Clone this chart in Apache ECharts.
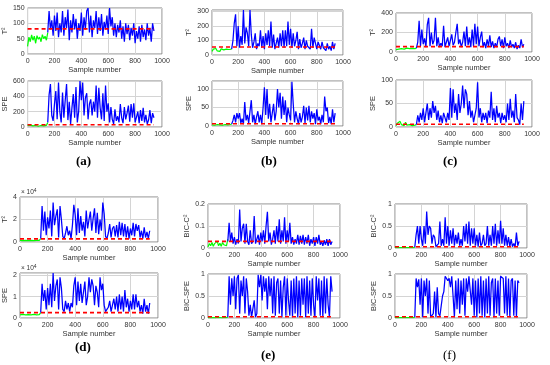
<!DOCTYPE html>
<html><head><meta charset="utf-8">
<script src="https://cdn.jsdelivr.net/npm/echarts@6/dist/echarts.min.js"></script>
<style>html,body{margin:0;padding:0;background:#fff}#c{width:550px;height:365px}</style>
</head><body><div id="c"></div>
<script>
// ---------- data (sample numbers: green from 0, blue from 150, step 10) ----------
const xTicks = [0, 200, 400, 600, 800, 1000];
const greenStart = 0, blueStart = 150, sampleStep = 10, thresholdEnd = 940;

// (a)
const aT2Green = [25,55,40,62,45,58,35,60,48,55,40,63,50,58,45,70];
const aT2Blue = [70,140,80,110,60,125,75,135,55,100,70,140,60,120,85,145,45,110,70,130,80,115,50,100,75,135,60,120,80,140,150,70,125,55,110,85,140,65,120,75,130,60,105,80,125,65,150,90,120,60,100,55,95,70,110,50,90,40,100,65,95,45,85,60,100,35,75,50,90,40,95,55,80,45,100,60,85,40,100,75];
const aT2Thr = 82;
const aSpeGreen = [20,40,25,30,15,35,20,25,10,30,20,35,15,25,20,60];
const aSpeBlue = [60,420,560,150,80,300,470,100,580,200,60,450,120,350,560,90,330,40,250,430,120,520,60,200,600,350,580,150,380,440,100,300,360,150,330,200,540,120,510,250,100,440,80,540,200,310,60,260,100,40,230,80,140,60,300,120,50,260,100,180,280,70,300,120,310,60,130,200,50,220,80,250,60,160,40,90,220,50,180,120];
const aSpeThr = 30;
// (b)
const bT2Green = [25,40,30,45,28,38,25,42,30,35,22,40,30,38,28,40];
const bT2Blue = [40,100,220,280,60,200,50,130,70,310,80,190,150,60,310,140,50,90,150,40,80,60,170,50,130,40,150,70,170,60,230,50,140,40,80,120,50,150,60,170,50,170,60,230,70,180,50,150,60,100,160,40,110,50,80,120,40,100,60,70,40,180,50,120,110,40,90,80,40,90,50,60,30,80,40,60,30,90,40,80];
const bT2Thr = 55;
const bSpeGreen = [3,5,2,6,4,7,3,5,2,6,4,5,3,6,4,5];
const bSpeBlue = [5,15,30,10,35,20,35,8,20,5,65,15,30,8,40,70,10,30,5,25,40,10,30,5,50,105,30,100,20,60,10,35,60,15,40,100,50,90,20,80,30,70,10,50,30,15,120,60,10,40,20,5,35,10,25,55,8,50,15,55,10,40,20,35,5,45,15,25,5,30,10,80,40,50,8,25,5,45,10,35];
const bSpeThr = 6;
// (c)
const cT2Green = [25,35,30,40,35,42,30,38,40,45,35,42,38,40,35,40];
const cT2Blue = [40,100,320,60,230,80,140,50,280,350,60,200,80,120,350,60,150,50,90,60,270,50,100,150,60,120,180,70,100,200,290,80,130,50,100,210,60,260,70,150,50,230,60,290,80,260,60,150,210,50,100,40,130,60,170,50,110,40,90,50,130,160,60,130,40,150,60,90,40,120,50,80,40,100,30,70,40,130,50,80];
const cT2Thr = 55;
const cSpeGreen = [3,8,4,12,5,7,3,10,4,8,5,6,3,7,4,5];
const cSpeBlue = [5,25,10,30,15,40,10,30,50,15,40,20,55,30,45,15,35,10,25,8,30,20,10,30,15,83,20,80,30,50,15,70,30,50,88,40,80,70,25,55,20,35,10,25,40,95,20,40,10,30,15,30,8,35,20,75,15,40,10,45,20,30,8,30,15,25,10,50,15,60,20,35,10,70,20,15,5,50,15,55];
const cSpeThr = 6;
// (d)  values in units of 10^4
const dT2Green = [0.15,0.2,0.12,0.18,0.15,0.2,0.12,0.17,0.15,0.2,0.13,0.18,0.15,0.2,0.14,0.3];
const dT2Blue = [0.3,3.2,1.0,2.7,0.6,2.2,1.2,2.8,0.5,3.5,1.5,2.3,2.9,0.4,3.2,2.0,0.5,0.3,0.8,1.4,0.6,1.0,0.3,1.5,3.3,2.4,0.6,3.0,0.8,2.3,1.0,1.8,0.5,2.8,1.2,2.0,2.7,1.0,2.1,3.0,0.8,2.6,0.7,2.0,1.0,3.5,2.5,0.5,0.3,0.8,1.6,0.4,1.2,1.4,0.5,1.5,0.4,1.8,0.6,1.7,0.5,1.6,0.4,1.4,0.3,1.2,0.6,1.7,0.5,1.6,1.0,1.5,0.4,1.0,0.3,1.3,0.4,0.9,0.3,1.0];
const dT2Thr = 0.28;
const dSpeGreen = [0.15,0.2,0.17,0.25,0.15,0.22,0.16,0.2,0.15,0.22,0.17,0.2,0.15,0.2,0.16,0.25];
const dSpeBlue = [0.25,1.6,0.8,1.3,0.4,1.4,0.6,1.6,0.5,2.1,0.8,1.5,1.8,0.4,1.9,1.4,0.4,0.3,0.8,0.4,0.7,0.3,0.7,0.5,1.5,1.9,0.6,1.7,0.8,1.6,0.7,1.2,1.7,0.6,1.0,1.9,1.2,1.8,1.5,0.6,1.5,1.2,0.5,1.9,1.3,1.6,0.6,0.3,0.4,0.5,0.8,0.3,0.6,0.9,0.4,1.0,0.3,1.1,0.4,1.0,0.3,1.3,0.5,0.9,0.3,0.8,0.4,1.1,0.4,1.1,0.5,0.8,0.3,0.6,0.2,0.9,0.3,0.6,0.2,0.7];
const dSpeThr = 0.25;
// (e)
const eC2Green = [0.005,0.02,0.01,0.025,0.008,0.02,0.012,0.03,0.01,0.022,0.008,0.025,0.015,0.02,0.01,0.04];
const eC2Blue = [0.03,0.115,0.03,0.07,0.02,0.05,0.015,0.04,0.02,0.175,0.03,0.09,0.11,0.02,0.11,0.03,0.015,0.08,0.02,0.03,0.145,0.02,0.04,0.06,0.015,0.07,0.03,0.08,0.02,0.1,0.165,0.03,0.07,0.015,0.04,0.08,0.02,0.1,0.03,0.13,0.02,0.08,0.03,0.14,0.02,0.08,0.03,0.115,0.02,0.05,0.015,0.04,0.02,0.06,0.015,0.055,0.02,0.06,0.015,0.05,0.02,0.06,0.01,0.04,0.02,0.05,0.01,0.05,0.02,0.06,0.015,0.03,0.01,0.035,0.015,0.04,0.01,0.04,0.015,0.03];
const eC2Thr = 0.03;
const eSpeGreen = [0.01,0.02,0.005,0.015,0.01,0.02,0.005,0.01,0.015,0.01,0.005,0.02,0.01,0.015,0.01,0.02];
const eSpeBlue = [0.02,0.95,0.3,0.9,0.5,0.95,0.2,0.9,0.98,0.1,0.85,0.5,0.95,0.1,0.9,0.6,0.05,0.3,0.02,0.05,0.4,0.02,0.1,0.98,0.7,0.98,0.4,0.95,0.6,0.9,0.2,0.95,0.5,0.9,0.1,0.95,0.05,0.8,0.9,0.1,0.85,0.02,0.7,0.95,0.05,0.9,0.4,0.05,0.85,0.02,0.9,0.1,0.95,0.02,0.85,0.05,0.9,0.3,0.9,0.02,0.95,0.1,0.85,0.05,0.9,0.3,0.02,0.95,0.4,0.9,0.05,0.85,0.02,0.95,0.1,0.9,0.3,0.02,0.95,0.6];
const eSpeThr = 0.03;
// (f)
const fC2Green = [0.01,0.015,0.01,0.02,0.01,0.015,0.01,0.02,0.01,0.015,0.01,0.02,0.01,0.015,0.01,0.02];
const fC2Blue = [0.02,0.3,0.5,0.1,0.5,0.2,0.05,0.5,0.1,0.83,0.3,0.5,0.45,0.1,0.3,0.25,0.03,0.05,0.1,0.6,0.05,0.2,0.05,0.7,0.1,0.5,0.05,0.4,0.1,0.45,0.05,0.3,0.1,0.35,0.05,0.2,0.05,0.5,0.15,0.55,0.1,0.6,0.05,0.45,0.1,0.45,0.05,0.3,0.03,0.35,0.05,0.1,0.3,0.05,0.1,0.5,0.05,0.3,0.05,0.5,0.1,0.55,0.05,0.4,0.1,0.62,0.1,0.45,0.05,0.3,0.05,0.25,0.03,0.2,0.03,0.1,0.03,0.35,0.05,0.15];
const fC2Thr = 0.03;
const fSpeGreen = [0.01,0.015,0.01,0.02,0.01,0.012,0.01,0.02,0.01,0.015,0.01,0.02,0.01,0.015,0.01,0.02];
const fSpeBlue = [0.02,0.9,0.7,0.88,0.3,0.9,0.02,0.85,0.5,0.9,0.1,0.85,0.02,0.05,0.1,0.6,0.02,0.7,0.1,0.05,0.02,0.5,0.6,0.95,0.98,0.85,0.9,0.7,0.95,0.5,0.02,0.85,0.2,0.9,0.1,0.85,0.3,0.9,0.05,0.9,0.6,0.95,0.98,0.3,0.9,0.05,0.85,0.02,0.9,0.1,0.95,0.05,0.85,0.02,0.9,0.1,0.95,0.05,0.8,0.9,0.02,0.9,0.1,0.85,0.05,0.95,0.98,0.9,0.1,0.95,0.05,0.9,0.02,0.85,0.9,0.05,0.85,0.02,0.85,0.8];
const fSpeThr = 0.03;

const panelLetters = ['(a)', '(b)', '(c)', '(d)', '(e)', '(f)'];

// ---------- layout ----------
const plots = [
  {g:[26,8,136,46],   max:150,  iv:50,  name:'T\u00B2',     green:aT2Green, blue:aT2Blue, thr:aT2Thr},
  {g:[26,81,136,46],  max:600,  iv:200, name:'SPE',         green:aSpeGreen, blue:aSpeBlue, thr:aSpeThr},
  {g:[212,10,131,45], max:310,  iv:100, name:'T\u00B2',     green:bT2Green, blue:bT2Blue, thr:bT2Thr},
  {g:[212,81,131,45], max:122,  iv:50,  name:'SPE',         green:bSpeGreen, blue:bSpeBlue, thr:bSpeThr},
  {g:[396,13,136,39], max:400,  iv:200, name:'T\u00B2',     green:cT2Green, blue:cT2Blue, thr:cT2Thr},
  {g:[396,80,136,47], max:100,  iv:50,  name:'SPE',         green:cSpeGreen, blue:cSpeBlue, thr:cSpeThr},
  {g:[20,197,138,45], max:4,    iv:2,   name:'T\u00B2',     green:dT2Green, blue:dT2Blue, thr:dT2Thr},
  {g:[20,273,138,45], max:2.1,  iv:1,   name:'SPE',         green:dSpeGreen, blue:dSpeBlue, thr:dSpeThr},
  {g:[208,204,132,44],max:0.2,  iv:0.1, name:'BIC-C\u00B2', green:eC2Green, blue:eC2Blue, thr:eC2Thr},
  {g:[208,274,132,44],max:1,    iv:0.5, name:'BIC-SPE',     green:eSpeGreen, blue:eSpeBlue, thr:eSpeThr},
  {g:[395,204,132,44],max:1,    iv:0.5, name:'BIC-C\u00B2', green:fC2Green, blue:fC2Blue, thr:fC2Thr},
  {g:[395,274,132,44],max:1,    iv:0.5, name:'BIC-SPE',     green:fSpeGreen, blue:fSpeBlue, thr:fSpeThr}
];
const letterPos = [[85,163],[270,163],[452,163],[84,349],[270,357],[452,357]];
const letterBold = [true, true, true, true, true, false];

const FONT = 'Liberation Sans';
const grids = [], xAxes = [], yAxes = [], series = [];
plots.forEach((p, i) => {
  grids.push({left:p.g[0], top:p.g[1], width:p.g[2], height:p.g[3], show:true,
    borderColor:'#858585', borderWidth:1, backgroundColor:'#fff', containLabel:false});
  xAxes.push({gridIndex:i, type:'value', min:xTicks[0], max:xTicks[xTicks.length-1], interval:xTicks[1]-xTicks[0],
    axisLine:{show:false}, axisTick:{show:false},
    splitLine:{show:true, lineStyle:{color:'#d4d4d4', width:1}},
    axisLabel:{fontFamily:FONT, fontSize:7, color:'#333', margin:4, formatter: v => String(v)},
    name:'Sample number', nameLocation:'middle', nameGap:12,
    nameTextStyle:{fontFamily:FONT, fontSize:7.5, color:'#333'}});
  yAxes.push({gridIndex:i, type:'value', min:0, max:p.max, interval:p.iv,
    axisLine:{show:false}, axisTick:{show:false},
    splitLine:{show:true, lineStyle:{color:'#d4d4d4', width:1}},
    axisLabel:{fontFamily:FONT, fontSize:7, color:'#333', margin:3,
      formatter: v => { const r = v / p.iv; return Math.abs(r - Math.round(r)) < 1e-6 ? String(+v.toFixed(4)) : ''; }},
    name:p.name, nameLocation:'middle', nameRotate:90, nameGap:(i>=6 && i<8) ? 10 : 14,
    nameTextStyle:{fontFamily:FONT, fontSize:7.5, color:'#333'}});
  series.push({type:'line', xAxisIndex:i, yAxisIndex:i, showSymbol:false, animation:false,
    lineStyle:{color:'#00ff00', width:1.2}, itemStyle:{color:'#00ff00'},
    data:p.green.map((v,k)=>[greenStart + k*sampleStep, v])});
  series.push({type:'line', xAxisIndex:i, yAxisIndex:i, showSymbol:false, animation:false,
    lineStyle:{color:'#0000ff', width:1.25}, itemStyle:{color:'#0000ff'},
    data:p.blue.map((v,k)=>[blueStart + k*sampleStep, v])});
  series.push({type:'line', xAxisIndex:i, yAxisIndex:i, showSymbol:false, animation:false,
    lineStyle:{color:'#ff0000', width:1.6, type:[4,3]}, itemStyle:{color:'#ff0000'},
    data:[[0, p.thr],[thresholdEnd, p.thr]]});
});

const graphics = panelLetters.map((t, i) => ({type:'text', left:letterPos[i][0]-9, top:letterPos[i][1]-8,
  style:{text:t, font:(letterBold[i] ? 'bold ' : '') + '13px "Liberation Serif"', fill:'#000'}}));
graphics.push({type:'text', left:21, top:188, style:{text:'\u00D7 10{s|4}', font:'6.5px "Liberation Sans"', fill:'#333', rich:{s:{fontSize:5, verticalAlign:'top', padding:[0,0,3,0]}}}});
graphics.push({type:'text', left:21, top:264, style:{text:'\u00D7 10{s|4}', font:'6.5px "Liberation Sans"', fill:'#333', rich:{s:{fontSize:5, verticalAlign:'top', padding:[0,0,3,0]}}}});

const chart = echarts.init(document.getElementById('c'), null, {renderer:'canvas'});
chart.setOption({animation:false, backgroundColor:'#fff', grid:grids, xAxis:xAxes, yAxis:yAxes, series:series, graphic:graphics});
</script></body></html>
